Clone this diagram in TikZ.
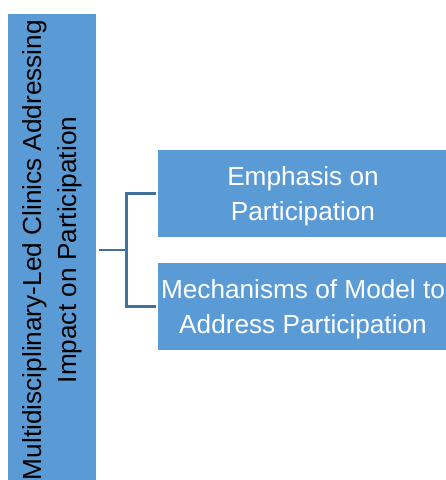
\documentclass[tikz,border=0pt]{standalone}
\usepackage{fontspec}
\setmainfont{Liberation Sans}
\definecolor{boxblue}{RGB}{91,155,213}
\definecolor{linkblue}{RGB}{65,113,156}
\begin{document}
\begin{tikzpicture}[x=1pt,y=-1pt,
  main node/.style={rectangle,fill=boxblue,inner sep=0pt,outer sep=2.5pt,align=center,font=\fontsize{26.2}{34.5}\selectfont},
  side node/.style={main node,text=white,minimum width=290pt,minimum height=87pt,text depth=0pt},
  link/.style={linkblue,line width=2.4pt}]
  \useasboundingbox (0,0) rectangle (446,480);
  \clip (0,0) rectangle (446,480);

  \node[main node,rotate=90,minimum width=472pt,minimum height=88pt] (clinics) at (52,250)
    {Multidisciplinary-Led Clinics Addressing\\Impact on Participation};
  \node[side node] (emphasis) at (303,193.5) {Emphasis on\\Participation};
  \node[side node] (mechanisms) at (303,306.5) {Mechanisms of Model to\\Address Participation};

  \draw[link] (clinics.south) -- ++(28,0) coordinate (fork) |- (emphasis.west);
  \draw[link] (fork) |- (mechanisms.west);
\end{tikzpicture}
\end{document}
